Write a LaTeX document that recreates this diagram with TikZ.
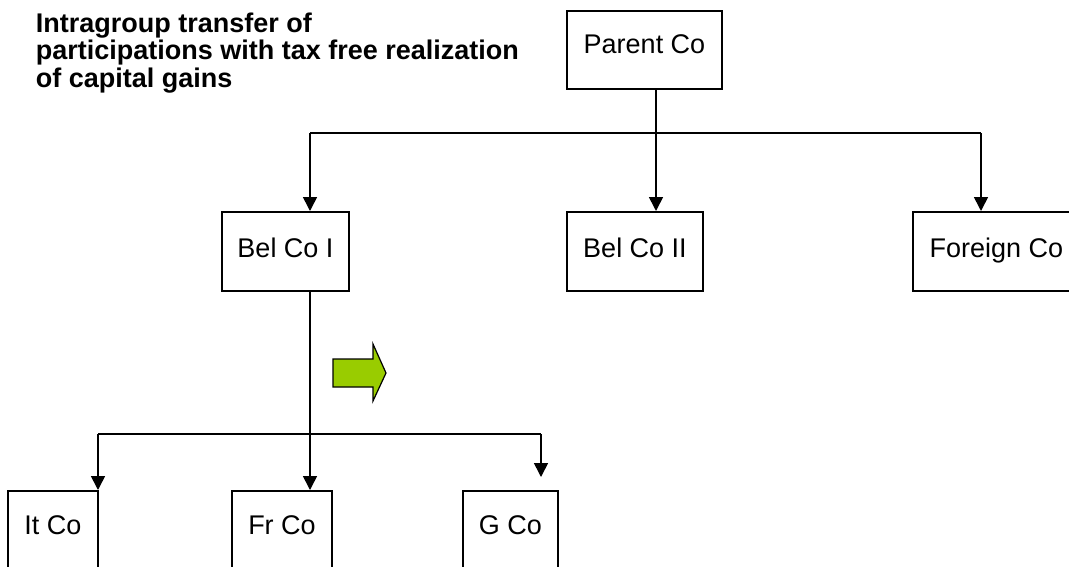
\documentclass[tikz,border=0pt]{standalone}
\usepackage{fontspec}
\setmainfont{Liberation Sans}
\usetikzlibrary{arrows.meta}
\definecolor{arrowgreen}{RGB}{153,204,0}
\begin{document}
\begin{tikzpicture}[x=1pt,y=-1pt,line width=1.6pt,
  conn/.style={-{Triangle[width=14pt,length=14pt]}},
  cobox/.style={draw,rectangle,inner sep=0pt,anchor=north,
    font=\fontsize{27}{28}\selectfont,text height=46pt,text depth=33pt},
  titletext/.style={inner sep=0pt,anchor=north west,align=left,
    font=\fontsize{27}{27.6}\selectfont\bfseries}]
\useasboundingbox (0,0) rectangle (1069,566);
\clip (0,0) rectangle (1069,566);
% title
\node[titletext] (title) at (35,12) {Intragroup transfer of\\participations with tax free realization\\of capital gains};
% boxes
\node[cobox,minimum width=155pt,text height=43pt,text depth=35pt] (parent) at (644.5,10) {Parent Co};
\node[cobox,minimum width=127pt] (belI) at (285.5,211) {Bel Co I};
\node[cobox,minimum width=136pt] (belII) at (635,211) {Bel Co II};
\node[cobox,minimum width=167pt] (foreign) at (996.5,211) {Foreign Co};
\node[cobox,minimum width=90pt,text height=44pt,text depth=35pt] (itco) at (53,490) {It Co};
\node[cobox,minimum width=100pt,text height=44pt,text depth=35pt] (frco) at (282,490) {Fr Co};
\node[cobox,minimum width=95pt,text height=44pt,text depth=35pt] (gco) at (510.5,490) {G Co};
% top bus
\coordinate (j1) at (656,133);
\coordinate (busL) at (310,133);
\coordinate (busR) at (981,133);
\draw (parent.south -| j1) -- (j1);
\draw (busL) -- (busR);
\draw[conn] (busL) -- (busL |- belI.north);
\draw[conn] (j1) -- (j1 |- belII.north);
\draw[conn] (busR) -- (busR |- foreign.north);
% bottom bus
\coordinate (b1) at (310,434);
\coordinate (bL) at (98,434);
\coordinate (bR) at (541,434);
\coordinate (gEnd) at (541,477);
\draw (belI.south -| b1) -- (b1);
\draw (bL) -- (bR);
\draw[conn] (bL) -- (bL |- itco.north);
\draw[conn] (b1) -- (b1 |- frco.north);
\draw[conn] (bR) -- (gEnd);
% green block arrow
\draw[fill=arrowgreen,line width=1.2pt,line join=miter]
  (333,359) -- (373,359) -- (373,344) -- (386,373) -- (373,401) -- (373,387) -- (333,387) -- cycle;
\end{tikzpicture}
\end{document}
